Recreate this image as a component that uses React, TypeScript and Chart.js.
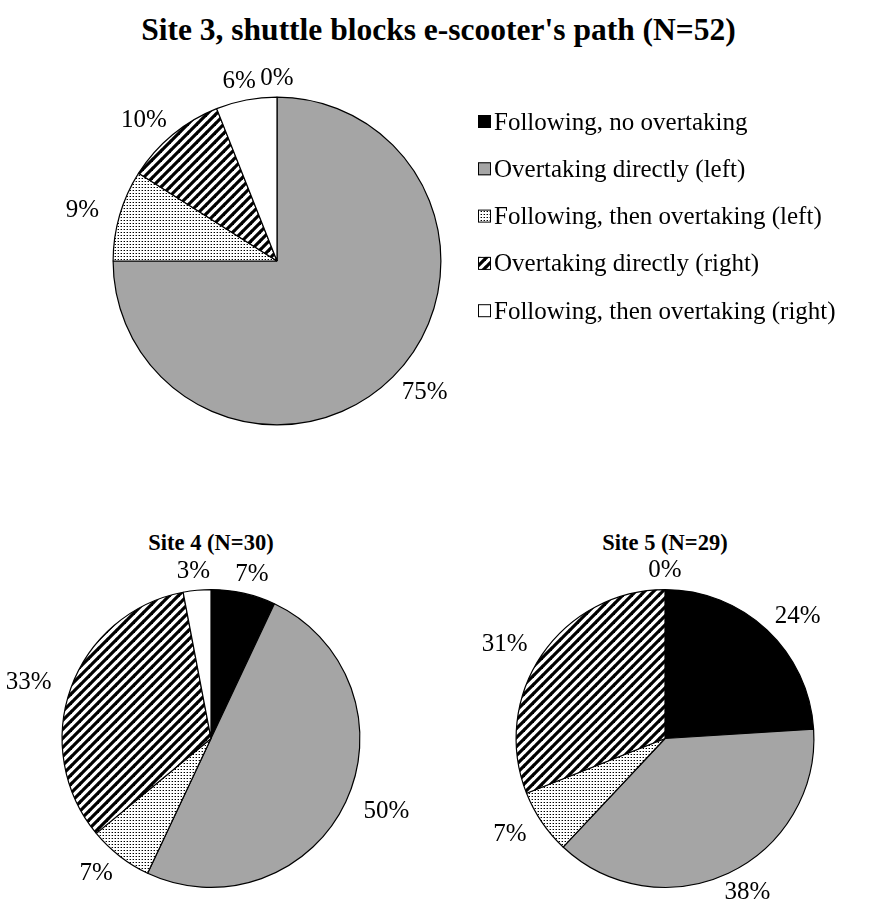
import React, { useEffect, useRef } from 'react';
import { Chart, registerables } from 'chart.js';
Chart.register(...registerables);

const categories = [
  'Following, no overtaking',
  'Overtaking directly (left)',
  'Following, then overtaking (left)',
  'Overtaking directly (right)',
  'Following, then overtaking (right)',
];
const site3Values = [0, 75, 9, 10, 6];
const site4Values = [7, 50, 7, 33, 3];
const site5Values = [24, 38, 7, 31, 0];
const mainTitle = "Site 3, shuttle blocks e-scooter's path (N=52)";
const site4Title = 'Site 4 (N=30)';
const site5Title = 'Site 5 (N=29)';

const FONT = '"Liberation Serif", "Times New Roman", serif';

function makeDots(): CanvasPattern {
  const c = document.createElement('canvas');
  c.width = 3; c.height = 3;
  const x = c.getContext('2d')!;
  x.fillStyle = '#fff'; x.fillRect(0, 0, 3, 3);
  x.fillStyle = '#000'; x.fillRect(1, 1, 1, 1);
  x.fillStyle = '#999'; x.fillRect(0, 1, 1, 1);
  return x.createPattern(c, 'repeat')!;
}

function makeStripes(): CanvasPattern {
  const s = 9;
  const c = document.createElement('canvas');
  c.width = s; c.height = s;
  const x = c.getContext('2d')!;
  x.fillStyle = '#fff'; x.fillRect(0, 0, s, s);
  x.strokeStyle = '#000'; x.lineWidth = 3.2;
  for (const k of [-s, 0, s]) {
    x.beginPath(); x.moveTo(k - 1, s + 1); x.lineTo(k + s + 1, -1); x.stroke();
  }
  return x.createPattern(c, 'repeat')!;
}

const labelPlugin = {
  id: 'pctLabels',
  afterDatasetsDraw(chart: any) {
    const ctx = chart.ctx as CanvasRenderingContext2D;
    const meta = chart.getDatasetMeta(0);
    const values = chart.data.datasets[0].data as number[];
    ctx.save();
    ctx.font = `25px ${FONT}`;
    ctx.fillStyle = '#000';
    ctx.textAlign = 'center';
    ctx.textBaseline = 'middle';
    meta.data.forEach((arc: any, i: number) => {
      const p = arc.getProps(['x', 'y', 'startAngle', 'endAngle', 'outerRadius'], true);
      const mid = (p.startAngle + p.endAngle) / 2;
      const dx = Math.cos(mid), dy = Math.sin(mid);
      const text = values[i] + '%';
      const w = ctx.measureText(text).width;
      const gapX = 22;
      const gapY = 20;
      const px = p.x + dx * (p.outerRadius + gapX + w / 2);
      const py = p.y + dy * (p.outerRadius + gapY) + 1;
      ctx.fillText(text, px, py);
    });
    ctx.restore();
  },
};

const legendPlugin = {
  id: 'sideLegend',
  afterDraw(chart: any, _args: any, opts: any) {
    if (!opts || !opts.show) return;
    const ctx = chart.ctx as CanvasRenderingContext2D;
    const labels = chart.data.labels as string[];
    const fills = chart.data.datasets[0].backgroundColor as any[];
    ctx.save();
    ctx.font = `25px ${FONT}`;
    ctx.textBaseline = 'middle';
    ctx.textAlign = 'left';
    labels.forEach((lab, i) => {
      const cy = opts.y + i * opts.step;
      ctx.fillStyle = fills[i];
      ctx.fillRect(opts.x, cy - 7, 13, 13);
      ctx.strokeStyle = '#000';
      ctx.lineWidth = 1;
      ctx.strokeRect(opts.x + 0.5, cy - 6.5, 12, 12);
      ctx.fillStyle = '#000';
      ctx.fillText(lab, opts.x + 16, cy + 1);
    });
    ctx.restore();
  },
};

type PieProps = {
  values: number[];
  width: number;
  height: number;
  padding: { left: number; right: number; top: number; bottom: number };
  legend?: { x: number; y: number; step: number };
};

function PieCanvas({ values, width, height, padding, legend }: PieProps) {
  const ref = useRef<HTMLCanvasElement>(null);
  useEffect(() => {
    if (!ref.current) return;
    const dots = makeDots();
    const stripes = makeStripes();
    const chart = new Chart(ref.current, {
      type: 'pie',
      data: {
        labels: categories,
        datasets: [
          {
            data: values,
            backgroundColor: ['#000000', '#a5a5a5', dots, stripes, '#ffffff'],
            borderColor: '#000',
            borderWidth: 1.2,
          },
        ],
      },
      options: {
        animation: false,
        responsive: false,
        maintainAspectRatio: false,
        events: [],
        layout: { padding },
        plugins: {
          legend: { display: false },
          tooltip: { enabled: false },
          title: { display: false },
          sideLegend: legend ? { show: true, ...legend } : { show: false },
        } as any,
      },
      plugins: [labelPlugin, legendPlugin],
    });
    return () => chart.destroy();
  }, []);
  return <canvas ref={ref} width={width} height={height} style={{ width, height, display: 'block' }} />;
}

export default function App() {
  const titleStyle = (top: number, left: number, width: number, size: number): React.CSSProperties => ({
    position: 'absolute',
    top,
    left,
    width,
    textAlign: 'center',
    fontFamily: FONT,
    fontWeight: 'bold',
    fontSize: size,
    lineHeight: '34px',
    color: '#000',
    whiteSpace: 'nowrap',
  });
  return (
    <div style={{ position: 'absolute', left: 0, top: 0, width: 871, height: 908, background: '#fff', overflow: 'hidden' }}>
      <div style={titleStyle(13, 0, 877, 31.5)}>{mainTitle}</div>
      <div style={titleStyle(526, 0, 422, 22.5)}>{site4Title}</div>
      <div style={titleStyle(526, 435, 460, 22.5)}>{site5Title}</div>
      <div style={{ position: 'absolute', left: 0, top: 60 }}>
        <PieCanvas
          values={site3Values}
          width={871}
          height={400}
          padding={{ left: 112.5, right: 429.5, top: 36.5, bottom: 34.5 }}
          legend={{ x: 478, y: 62, step: 47.3 }}
        />
      </div>
      <div style={{ position: 'absolute', left: 0, top: 540 }}>
        <PieCanvas
          values={site4Values}
          width={435}
          height={368}
          padding={{ left: 61, right: 74, top: 49, bottom: 20 }}
        />
      </div>
      <div style={{ position: 'absolute', left: 435, top: 540 }}>
        <PieCanvas
          values={site5Values}
          width={436}
          height={368}
          padding={{ left: 80.5, right: 56.5, top: 49, bottom: 20 }}
        />
      </div>
    </div>
  );
}
